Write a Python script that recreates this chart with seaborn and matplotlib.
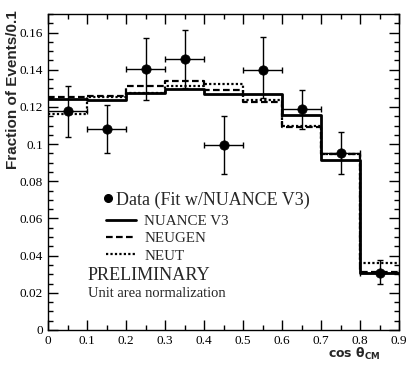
import numpy as np
import pandas as pd
import matplotlib
matplotlib.use('Agg')
import matplotlib.pyplot as plt
import seaborn as sns
from matplotlib.ticker import MultipleLocator, FuncFormatter
from matplotlib.lines import Line2D

bin_edges = [0.0, 0.1, 0.2, 0.3, 0.4, 0.5, 0.6, 0.7, 0.8, 0.9]
bin_centers = [0.05, 0.15, 0.25, 0.35, 0.45, 0.55, 0.65, 0.75, 0.85]
data_vals = [0.118, 0.108, 0.1405, 0.146, 0.0993, 0.140, 0.1187, 0.095, 0.0304]
err_up = [0.1315, 0.121, 0.157, 0.1616, 0.115, 0.1575, 0.129, 0.1065, 0.0376]
err_lo = [0.104, 0.095, 0.124, 0.130, 0.084, 0.125, 0.108, 0.084, 0.0245]
nuance = [0.1245, 0.1235, 0.1275, 0.1297, 0.127, 0.127, 0.1158, 0.0913, 0.0306]
neugen = [0.1253, 0.1258, 0.131, 0.1337, 0.1289, 0.1226, 0.1092, 0.0945, 0.031]
neut = [0.1160, 0.1255, 0.1275, 0.131, 0.1325, 0.124, 0.1095, 0.0947, 0.0363]

sns.set_style('ticks')
plt.rcParams['font.family'] = ['Liberation Serif', 'DejaVu Serif']
plt.rcParams['mathtext.fontset'] = 'dejavusans'

fig = plt.figure(figsize=(4.15, 3.74), dpi=100)
ax = fig.add_axes([48/415, 1-330/374, 351/415, 316/374])

def steps(vals):
    return pd.DataFrame({'x': bin_edges, 'y': list(vals) + [vals[-1]]})

sns.lineplot(data=steps(nuance), x='x', y='y', ax=ax, color='black', lw=2.0,
             drawstyle='steps-post', estimator=None, sort=False)
sns.lineplot(data=steps(neugen), x='x', y='y', ax=ax, color='black', lw=1.6,
             drawstyle='steps-post', estimator=None, sort=False,
             linestyle=(0, (3, 1.5)))
sns.lineplot(data=steps(neut), x='x', y='y', ax=ax, color='black', lw=1.6,
             drawstyle='steps-post', estimator=None, sort=False,
             linestyle=(0, (1, 1)))

yv = np.array(data_vals)
yerr = np.vstack([yv - np.array(err_lo), np.array(err_up) - yv])
ax.errorbar(bin_centers, data_vals, xerr=0.05, yerr=yerr, fmt='none',
            ecolor='black', elinewidth=1.0, capsize=2.5, capthick=1.0)
sns.scatterplot(x=bin_centers, y=data_vals, ax=ax, color='black', s=45,
                edgecolor='black', zorder=5)

ax.set_xlim(0, 0.9)
ax.set_ylim(0, 0.17)
ax.xaxis.set_major_locator(MultipleLocator(0.1))
ax.xaxis.set_minor_locator(MultipleLocator(0.05))
ax.yaxis.set_major_locator(MultipleLocator(0.02))
ax.yaxis.set_minor_locator(MultipleLocator(0.005))
fmt = FuncFormatter(lambda v, p: '%g' % round(v, 3))
ax.xaxis.set_major_formatter(fmt)
ax.yaxis.set_major_formatter(fmt)
ax.tick_params(which='both', direction='in', top=True, right=True, colors='black',
               labelsize=9.5)
ax.tick_params(which='major', length=7, width=1)
ax.tick_params(which='minor', length=3.5, width=1)
for s in ax.spines.values():
    s.set_linewidth(1.0)
    s.set_color('black')

ax.set_xlabel(r'$\mathbf{cos}\ \mathbf{\theta}_{\mathbf{CM}}$', fontsize=9)
ax.xaxis.set_label_coords(0.946, -0.05)
ax.xaxis.label.set_ha('right')
ax.set_ylabel('Fraction of Events/0.1', family=['Liberation Sans', 'DejaVu Sans'],
              fontweight='bold', fontsize=11)
ax.yaxis.set_label_coords(-0.08, 1.013)
ax.yaxis.label.set_va('bottom')
ax.yaxis.label.set_ha('right')

# legend: data entry
h_data = [Line2D([], [], marker='o', color='black', ls='none', markersize=5.5)]
leg1 = ax.legend(h_data, ['Data (Fit w/NUANCE V3)'], loc='center left',
                 bbox_to_anchor=(0.158, 0.411), frameon=False, fontsize=13,
                 handlelength=0.45, handletextpad=0.25, borderpad=0,
                 borderaxespad=0)
ax.add_artist(leg1)

h_lines = [
    Line2D([], [], color='black', lw=2.0),
    Line2D([], [], color='black', lw=1.6, ls=(0, (3, 1.5))),
    Line2D([], [], color='black', lw=1.6, ls=(0, (1, 1))),
]
leg2 = ax.legend(h_lines, ['NUANCE V3', 'NEUGEN', 'NEUT'], loc='upper left',
                 bbox_to_anchor=(0.165, 0.366), frameon=False, fontsize=10.8,
                 handlelength=2.03, handletextpad=0.52, labelspacing=0.26,
                 borderpad=0, borderaxespad=0)

ax.text(0.114, 0.174, 'PRELIMINARY', transform=ax.transAxes, fontsize=13.1,
        va='center', ha='left')
ax.text(0.114, 0.117, 'Unit area normalization', transform=ax.transAxes, fontsize=10.5,
        va='center', ha='left')

fig.savefig('out.png', dpi=100)
